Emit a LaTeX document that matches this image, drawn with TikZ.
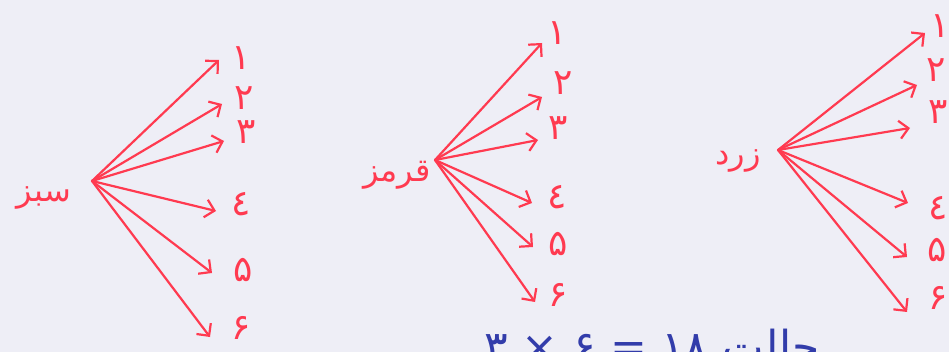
\documentclass[tikz,border=0pt]{standalone}
\usepackage{fontspec}
\usetikzlibrary{arrows.meta}
\TeXXeTstate=1
\newfontfamily\arabicfont[Script=Arabic]{DejaVu Sans}
\definecolor{paper}{RGB}{238,238,246}
\definecolor{pen}{RGB}{255,58,80}
\definecolor{ink}{RGB}{50,60,170}
\begin{document}
\begin{tikzpicture}[x=1pt,y=-1pt,
  branch/.style={draw=pen, line width=2.2pt, line cap=round,
    -{Straight Barb[length=9pt,width=18pt,line width=2.2pt]}},
  digit/.style={text=pen, font=\arabicfont\fontsize{36}{40}\selectfont, inner sep=0pt},
  colourname/.style={text=pen, font=\arabicfont\fontsize{32}{36}\selectfont, inner sep=0pt},
  sumtext/.style={text=ink, font=\arabicfont\fontsize{44}{50}\selectfont, inner sep=0pt, anchor=base}]
\useasboundingbox (0,0) rectangle (949,352);
\clip (0,0) rectangle (949,352);
\fill[paper] (0,0) rectangle (949,352);

% ---------- green tree ----------
\coordinate (g) at (92,181);
\node[colourname] (gname) at (44,198) {\beginR سبز\endR};
\coordinate (g1) at (219,60);
\coordinate (g2) at (222,104);
\coordinate (g3) at (224,141);
\coordinate (g4) at (216,211);
\coordinate (g5) at (212,273);
\coordinate (g6) at (210,337);
\foreach \i in {1,...,6} \draw[branch] (g) -- (g\i);
\node[digit] (gd1) at (241,58) {۱};
\node[digit] (gd2) at (244,98) {۲};
\node[digit] (gd3) at (246,132) {۳};
\node[digit] (gd4) at (241,204) {٤};
\node[digit] (gd5) at (243,270) {۵};
\node[digit] (gd6) at (241,328) {۶};

% ---------- red tree ----------
\coordinate (r) at (435,160);
\node[colourname] (rname) at (397,175) {\beginR قرمز\endR};
\coordinate (r1) at (542,43);
\coordinate (r2) at (542,97);
\coordinate (r3) at (538,140);
\coordinate (r4) at (532,203);
\coordinate (r5) at (533,247);
\coordinate (r6) at (535,302);
\foreach \i in {1,...,6} \draw[branch] (r) -- (r\i);
\node[digit] (rd1) at (557,33) {۱};
\node[digit] (rd2) at (563,83) {۲};
\node[digit] (rd3) at (558,128) {۳};
\node[digit] (rd4) at (557,197) {٤};
\node[digit] (rd5) at (558,244) {۵};
\node[digit] (rd6) at (558,295) {۶};

% ---------- yellow tree ----------
\coordinate (y) at (778,150);
\node[colourname] (yname) at (738,161) {\beginR زرد\endR};
\coordinate (y1) at (925,33);
\coordinate (y2) at (917,85);
\coordinate (y3) at (910,128);
\coordinate (y4) at (908,203);
\coordinate (y5) at (907,257);
\coordinate (y6) at (907,312);
\foreach \i in {1,...,6} \draw[branch] (y) -- (y\i);
\node[digit] (yd1) at (940,26) {۱};
\node[digit] (yd2) at (936,70) {۲};
\node[digit] (yd3) at (938,112) {۳};
\node[digit] (yd4) at (938,208) {٤};
\node[digit] (yd5) at (937,250) {۵};
\node[digit] (yd6) at (938,298) {۶};

% ---------- result (cut by the bottom edge) ----------
\node[sumtext] (total) at (652,362) {\beginR حالت ۱۸ = ۶ × ۳\endR};
\end{tikzpicture}
\end{document}
